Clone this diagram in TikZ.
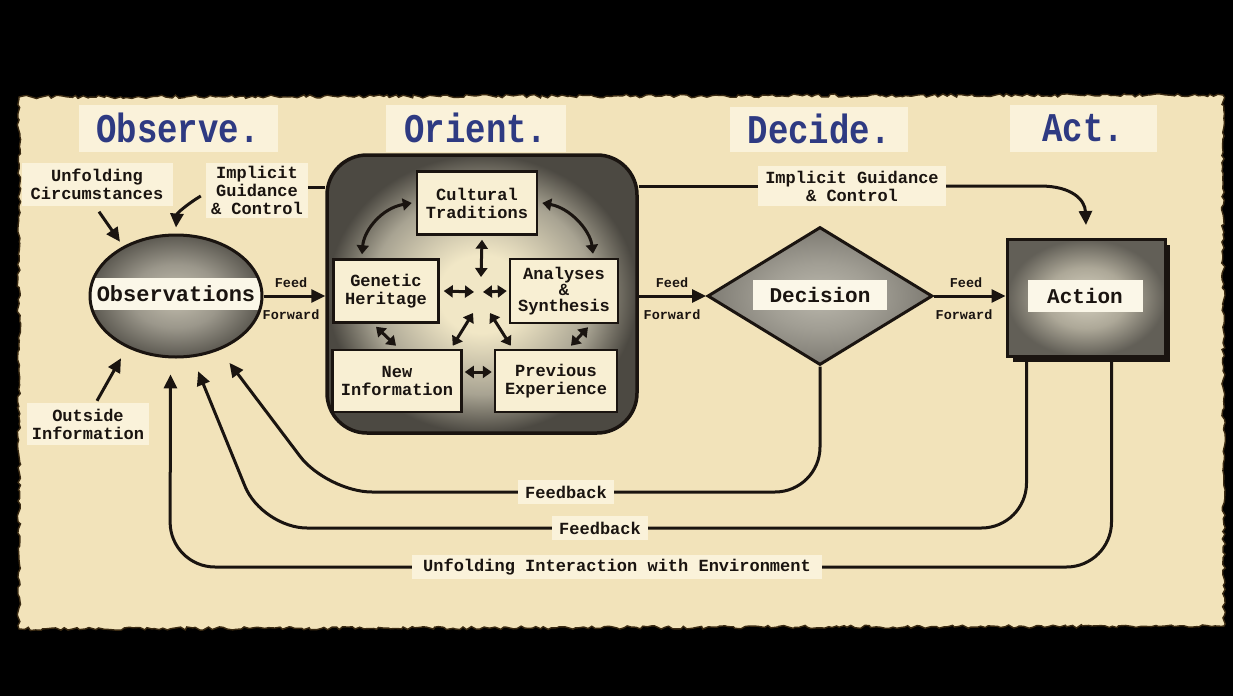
\documentclass[tikz,border=0pt]{standalone}
\usepackage{fontspec}
\setmainfont{Liberation Mono}
\usetikzlibrary{arrows.meta,shapes.geometric,decorations.pathmorphing}

\definecolor{paper}{HTML}{F2E3BA}
\definecolor{lightbox}{HTML}{FAF2DA}
\definecolor{bandcol}{HTML}{FBF7E8}
\definecolor{hdr}{HTML}{2E3A82}
\definecolor{ink}{HTML}{1A1410}
\definecolor{boxfill}{HTML}{F8EFD3}
\definecolor{edgecol}{HTML}{3A2A12}
% orient shading colours
\definecolor{oca}{HTML}{F1E7C6}
\definecolor{ocb}{HTML}{A8A392}
\definecolor{occ}{HTML}{4C4942}
% ellipse
\definecolor{eca}{HTML}{C4BFAF}
\definecolor{ecb}{HTML}{9B978B}
\definecolor{ecc}{HTML}{5C5951}
% diamond
\definecolor{dca}{HTML}{BAB7AC}
\definecolor{dcb}{HTML}{A19E94}
\definecolor{dcc}{HTML}{7E7B73}
% action
\definecolor{aca}{HTML}{D6D1C0}
\definecolor{acb}{HTML}{ADA898}
\definecolor{acc}{HTML}{625F57}

\pgfdeclareradialshading{orisha}{\pgfpoint{0bp}{0bp}}{color(0bp)=(oca); color(7bp)=(oca); color(18bp)=(ocb); color(25bp)=(occ); color(50bp)=(occ)}
\pgfdeclareradialshading{obssha}{\pgfpoint{0bp}{0bp}}{color(0bp)=(eca); color(13bp)=(ecb); color(25bp)=(ecc); color(50bp)=(ecc)}
\pgfdeclareradialshading{decsha}{\pgfpoint{0bp}{0bp}}{color(0bp)=(dca); color(12bp)=(dcb); color(25bp)=(dcc); color(50bp)=(dcc)}
\pgfdeclareradialshading{actsha}{\pgfpoint{0bp}{0bp}}{color(0bp)=(aca); color(13bp)=(acb); color(25bp)=(acc); color(50bp)=(acc)}

\newcommand{\hdrtext}[1]{\scalebox{1}[1.2]{#1}}

\tikzset{
  lbl/.style={fill=lightbox, inner sep=0pt, align=center, text=ink,
    font=\fontsize{17}{18}\selectfont\bfseries},
  hdrbox/.style={fill=lightbox, inner sep=0pt, text=hdr,
    font=\fontsize{34}{36}\selectfont\bfseries},
  ffl/.style={inner sep=0pt, text=ink, font=\fontsize{13.5}{14}\selectfont\bfseries},
  ibox/.style={draw=ink, line width=2.5pt, fill=boxfill, align=center, inner sep=0pt,
    text=ink, font=\fontsize{17}{18}\selectfont\bfseries},
  bandbox/.style={fill=bandcol, inner sep=0pt, text=ink,
    font=\fontsize{21}{22}\selectfont\bfseries},
  conn/.style={draw=ink, line width=3pt},
  arr/.style={conn, -{Triangle[length=14pt,width=13pt]}},
  darr/.style={conn, {Triangle[length=9pt,width=12pt]}-{Triangle[length=9pt,width=12pt]}},
  fb/.style={arr, rounded corners=45pt},
}

\begin{document}
\begin{tikzpicture}[x=1pt,y=-1pt]
\useasboundingbox (0,0) rectangle (1233,696);
\fill[black] (0,0) rectangle (1233,696);

% torn paper
\pgfmathsetseed{12}
\fill[paper, draw=edgecol, line width=1.4pt, decorate,
  decoration={random steps, segment length=4pt, amplitude=1.7pt}]
  (19,97) -- (1223,95) -- (1224,626) -- (19,629) -- cycle;

% headers
\node[hdrbox, minimum width=199pt, minimum height=47pt] (hObs) at (178,128) {\hdrtext{Observe.}};
\node[hdrbox, minimum width=180pt, minimum height=47pt] (hOri) at (476,128) {\hdrtext{Orient.}};
\node[hdrbox, minimum width=178pt, minimum height=45pt] (hDec) at (819,129) {\hdrtext{Decide.}};
\node[hdrbox, minimum width=147pt, minimum height=47pt] (hAct) at (1083,128) {\hdrtext{Act.}};

% side labels
\node[lbl, minimum width=151pt, minimum height=43pt] (uc) at (97,184) {Unfolding\\Circumstances};
\node[lbl, minimum width=102pt, minimum height=55pt] (igl) at (257,190) {Implicit\\Guidance\\\& Control};
\node[lbl, minimum width=122pt, minimum height=42pt] (oi) at (88,424) {Outside\\Information};
\node[lbl, minimum width=188pt, minimum height=40pt] (igt) at (852,186) {Implicit Guidance\\\& Control};

% Observations ellipse
\shade[shading=obssha] (176,296) ellipse [x radius=86, y radius=61];
\begin{scope}
  \clip (176,296) ellipse [x radius=86, y radius=61];
  \node[bandbox, minimum width=180pt, minimum height=32pt,
    font=\fontsize{22}{24}\selectfont\bfseries] (obsT) at (176,294) {Observations};
\end{scope}
\node[ellipse, draw=ink, line width=3pt, minimum width=172pt, minimum height=122pt,
  inner sep=0pt] (obs) at (176,296) {};

% Orient box
\node[draw=ink, line width=3.5pt, rounded corners=40pt, minimum width=310pt,
  minimum height=278pt, inner sep=0pt, shading=orisha] (orient) at (482,294) {};

\node[ibox, minimum width=120pt, minimum height=63pt] (ct) at (477,203) {Cultural\\Traditions};
\node[ibox, minimum width=105pt, minimum height=63pt] (gh) at (386,291) {Genetic\\Heritage};
\node[ibox, minimum width=108pt, minimum height=64pt,
  font=\fontsize{17}{16}\selectfont\bfseries] (as) at (564,291) {Analyses\\\&\\Synthesis};
\node[ibox, minimum width=129pt, minimum height=62pt] (ni) at (397,381) {New\\Information};
\node[ibox, minimum width=122pt, minimum height=62pt] (pe) at (556,381) {Previous\\Experience};
\coordinate (hub) at (481,292);

\draw[darr] ([xshift=-4pt]ct.west) .. controls (382,208) and (364,230) .. ([xshift=-24pt,yshift=4pt]gh.north);
\draw[darr] ([xshift=4pt]ct.east) .. controls (570,208) and (590,230) .. ([xshift=29pt,yshift=4pt]as.north);
\draw[darr] ([xshift=5pt,yshift=-4pt]ct.south) -- ([yshift=15pt]hub);
\draw[darr] ([xshift=4pt]gh.east) -- ([xshift=-7pt]hub);
\draw[darr] ([xshift=-2pt]as.west) -- ([xshift=2pt]hub);
\draw[darr] ([xshift=-10pt,yshift=3pt]ni.north east) -- ([shift={(-8pt,-21pt)}]hub);
\draw[darr] ([xshift=17pt,yshift=3pt]pe.north west) -- ([shift={(9pt,-21pt)}]hub);
\draw[darr] ([xshift=-10pt,yshift=-3pt]gh.south) -- ([xshift=-1pt,yshift=3pt]ni.north);
\draw[darr] ([xshift=24pt,yshift=-3pt]as.south) -- ([xshift=15pt,yshift=3pt]pe.north);
\draw[darr] ([xshift=2pt,yshift=9pt]ni.east) -- ([xshift=-2pt,yshift=9pt]pe.west);

% Decision diamond
\node[diamond, draw=ink, line width=3pt, minimum width=225pt, minimum height=138pt,
  inner sep=0pt, shading=decsha] (dec) at (820,296) {};
\node[bandbox, minimum width=134pt, minimum height=30pt] (decT) at (820,295) {Decision};

% Action box
\fill[ink] (1013,245) rectangle (1170,362);
\node[draw=ink, line width=3pt, minimum width=158pt, minimum height=117pt,
  inner sep=0pt, shading=actsha] (act) at (1086,298) {};
\node[bandbox, minimum width=115pt, minimum height=32pt] (actT) at (1085,296) {Action};

% feed forward
\draw[arr] (obs.east) -- (orient.west |- obs.east);
\draw[arr] (orient.east |- dec.west) -- (dec.west);
\draw[arr] (dec.east) -- (act.west |- dec.east);
\node[ffl] (f1a) at (291,283) {Feed};
\node[ffl] (f1b) at (291,315) {Forward};
\node[ffl] (f2a) at (672,283) {Feed};
\node[ffl] (f2b) at (672,315) {Forward};
\node[ffl] (f3a) at (966,283) {Feed};
\node[ffl] (f3b) at (964,315) {Forward};

% implicit guidance & control
\draw[conn] ([yshift=3pt]igl.east) -- ([yshift=3pt]igl.east -| orient.west);
\draw[conn] (orient.east |- igt.west) -- (igt.west);
\draw[arr] (igt.east) -- (1040,186) .. controls (1072,186) and (1085,200) .. ([yshift=13pt]act.north);
\draw[arr] ([xshift=-5pt,yshift=-6pt]igl.west) .. controls (189,203) and (177,213) .. ([yshift=6pt]obs.north);

% outside inputs
\draw[arr] ([xshift=2pt,yshift=-6pt]uc.south) -- ([shift={(-4pt,4pt)}]obs.136);
\draw[arr] ([xshift=9pt,yshift=2pt]oi.north) -- ([shift={(-3pt,-12pt)}]obs.-136);

% feedback loops
\draw[fb, shorten >=16pt] (dec.south) |- (327,492) -- (obs.-51.5);
\draw[fb, shorten >=15pt] ([xshift=21pt]act.south west) |- (262,528) -- (obs.-75.7);
\draw[fb, shorten >=16pt] ([xshift=-55pt]act.south east) |- (170,567) -- (obs.-95.6);

\node[lbl, minimum width=96pt, minimum height=24pt] (fb1) at (566,492) {Feedback};
\node[lbl, minimum width=96pt, minimum height=24pt] (fb2) at (600,528) {Feedback};
\node[lbl, minimum width=410pt, minimum height=24pt] (uie) at (617,567) {Unfolding Interaction with Environment};
\end{tikzpicture}
\end{document}
